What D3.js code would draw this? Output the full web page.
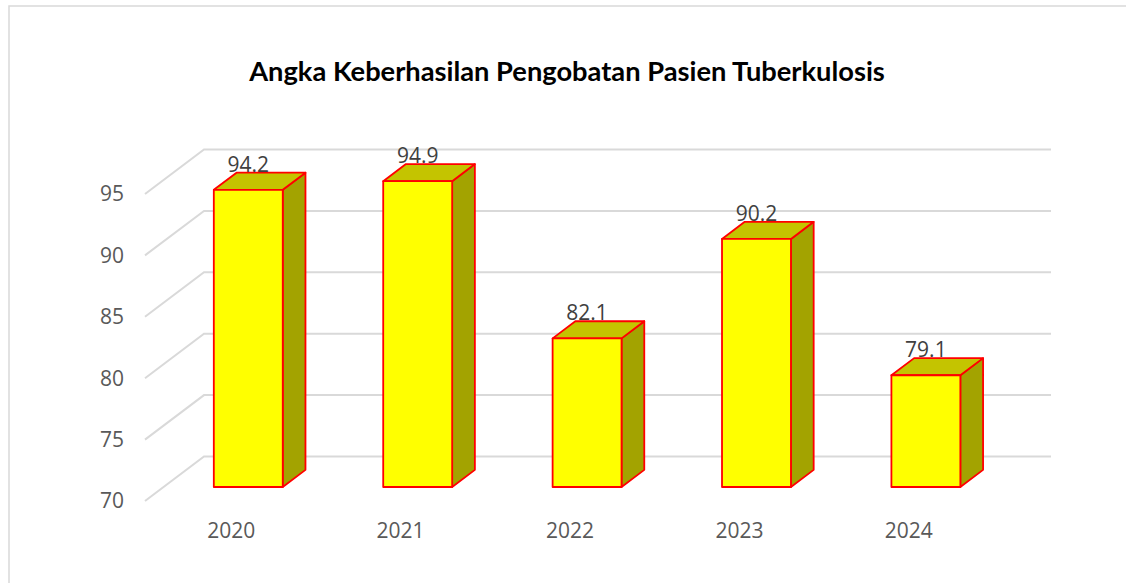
<!DOCTYPE html>
<html>
<head>
<meta charset="utf-8">
<script src="https://cdn.jsdelivr.net/npm/d3@7"></script>
<style>
  html, body { margin: 0; padding: 0; background: #fff; }
  svg { display: block; }
  text { font-family: "Open Sans", "Noto Sans", sans-serif; }
</style>
</head>
<body>
<svg id="chart" width="1126" height="583"></svg>
<script>
// Treatment success rate by year
const categories = ["2020", "2021", "2022", "2023", "2024"];
const values = [94.2, 94.9, 82.1, 90.2, 79.1];
const tickValues = [70, 75, 80, 85, 90, 95];
const titleText = "Angka Keberhasilan Pengobatan Pasien Tuberkulosis";

const svg = d3.select("#chart");

// 3D projection: depth z in [0,1] shifts points right and up
const depthDX = 59, depthDY = -44.5;
const x = d3.scaleBand().domain(categories).range([145, 992])
  .paddingInner(0.593).paddingOuter(0.2965);
const y = d3.scaleLinear().domain([70, 95]).range([501, 194]);
const proj = (px, v, z) => [px + z * depthDX, y(v) + z * depthDY];
const barZ0 = 0.315, barZ1 = 0.70;

// chart frame
svg.append("rect")
  .attr("x", 9).attr("y", 6).attr("width", 1140).attr("height", 620)
  .attr("fill", "none").attr("stroke", "#d9d9d9").attr("stroke-width", 1.5);

// title, fitted to its span
const title = svg.append("text")
  .attr("x", 567).attr("y", 81)
  .attr("text-anchor", "middle")
  .style("font-family", "Lato, 'Open Sans', sans-serif")
  .attr("font-weight", "bold")
  .attr("font-size", 24)
  .attr("fill", "#000")
  .text(titleText);
const tw = title.node().getComputedTextLength();
title.attr("font-size", 24 * 636 / tw);

// gridlines: side wall diagonal + back wall horizontal
const grid = svg.append("g").attr("fill", "none")
  .attr("stroke", "#d9d9d9").attr("stroke-width", 2);
const [x0, x1] = x.range();
tickValues.forEach(t => {
  const a = proj(x0, t, 0), b = proj(x0, t, 1), c = proj(x1, t, 1);
  grid.append("path").attr("d", d3.line()([a, b, c]));
});

// y tick labels
svg.append("g").selectAll("text").data(tickValues).join("text")
  .attr("x", 124).attr("y", d => y(d))
  .attr("dy", "0.35em")
  .attr("text-anchor", "end")
  .attr("font-size", 21)
  .attr("fill", "#595959")
  .text(d => d);

// category labels
svg.append("g").selectAll("text").data(categories).join("text")
  .attr("x", d => x(d) + x.bandwidth() / 2 + 1.5)
  .attr("y", 538)
  .attr("text-anchor", "middle")
  .attr("font-size", 21)
  .attr("fill", "#595959")
  .text(d => d);

// bars
const bars = svg.append("g").selectAll("g")
  .data(categories.map((c, i) => ({ c, v: values[i] })))
  .join("g")
  .attr("stroke", "#ff0000").attr("stroke-width", 1.8)
  .attr("stroke-linejoin", "round");

const poly = pts => "M" + pts.map(p => p.join(",")).join("L") + "Z";

bars.each(function (d) {
  const g = d3.select(this);
  const L = x(d.c), R = x(d.c) + x.bandwidth();
  const base = 70;
  // side face
  g.append("path").attr("fill", "#a3a300").attr("d", poly([
    proj(R, base, barZ0), proj(R, base, barZ1), proj(R, d.v, barZ1), proj(R, d.v, barZ0)
  ]));
  // top face
  g.append("path").attr("fill", "#c4c400").attr("d", poly([
    proj(L, d.v, barZ0), proj(L, d.v, barZ1), proj(R, d.v, barZ1), proj(R, d.v, barZ0)
  ]));
  // front face
  g.append("path").attr("fill", "#ffff00").attr("d", poly([
    proj(L, base, barZ0), proj(L, d.v, barZ0), proj(R, d.v, barZ0), proj(R, base, barZ0)
  ]));
  // value label above the top face
  const top = proj(L + x.bandwidth() / 2, d.v, barZ1);
  const front = proj(L + x.bandwidth() / 2, d.v, barZ0);
  g.append("text")
    .attr("x", front[0]).attr("y", top[1] - 1)
    .attr("text-anchor", "middle")
    .attr("stroke", "none")
    .attr("font-size", 21)
    .attr("fill", "#404040")
    .text(d.v.toFixed(1));
});
</script>
</body>
</html>
